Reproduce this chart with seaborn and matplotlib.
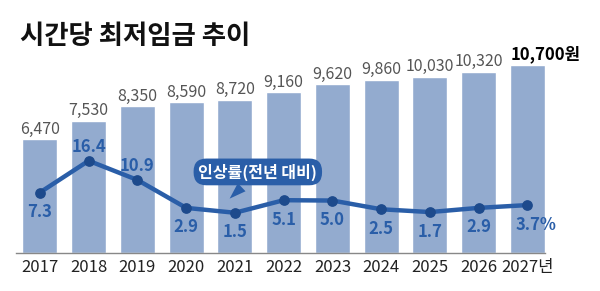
import numpy as np
import seaborn as sns
from matplotlib import pyplot as plt

years = ['2017', '2018', '2019', '2020', '2021', '2022', '2023', '2024', '2025', '2026', '2027']
wages = [6470, 7530, 8350, 8590, 8720, 9160, 9620, 9860, 10030, 10320, 10700]
rates = [7.3, 16.4, 10.9, 2.9, 1.5, 5.1, 5.0, 2.5, 1.7, 2.9, 3.7]
rate_above = [False, True, True, False, False, False, False, False, False, False, False]
tick_labels = years[:-1] + ['2027년']

BAR = '#93abcf'
LINE = '#2a5ea8'
DOT = '#1d4a8c'

sns.set_style('white')
plt.rcParams['font.family'] = ['Noto Sans CJK KR', 'DejaVu Sans']

fig = plt.figure(figsize=(6, 2.91), dpi=100)
W, H = 600, 291
ax = fig.add_axes([16 / W, 1 - 253 / H, (545 - 16) / W, 253 / H])

sns.barplot(x=years, y=wages, color=BAR, width=0.72, saturation=1, ax=ax)
ax.set_xlim(-0.49, 10.36)
ax.set_ylim(0, 14400)

labels = [f'{v:,}' for v in wages]
labels[-1] = ''
ax.bar_label(ax.containers[0], labels=labels, padding=1,
             fontsize=11.5, color='#555555')
# last value, bold and shifted right as in the source graphic
ax.annotate(f'{wages[-1]:,}원', (10, wages[-1]), xytext=(-12, 1.5),
            textcoords='offset points', ha='left', va='bottom',
            fontsize=12, fontweight='bold', color='black')

ax.set_xticks(range(len(years)))
ax.set_xticklabels(tick_labels, fontsize=12, color='#222222')
ax.tick_params(axis='x', length=0, pad=4)
ax.set_yticks([])
ax.set_xlabel('')
ax.set_ylabel('')
for s in ['top', 'left', 'right']:
    ax.spines[s].set_visible(False)
ax.spines['bottom'].set_color('#888888')
ax.spines['bottom'].set_linewidth(1)

# increase-rate line on a twin axis
ax2 = ax.twinx()
x = np.arange(len(rates))
sns.lineplot(x=x, y=rates, color=LINE, linewidth=3.2, ax=ax2)
ax2.scatter(x, rates, s=45, color=DOT, zorder=5)
ax2.set_ylim(-10.03, 62.46)
ax2.set_yticks([])
ax2.set_ylabel('')
for s in ax2.spines.values():
    s.set_visible(False)

for i, r in enumerate(rates):
    txt = f'{r:.1f}'
    dx = 0
    if i == len(rates) - 1:
        txt += '%'
        dx = 6
    dy = 10 if rate_above[i] else -14
    ax2.annotate(txt, (i, r), xytext=(dx, dy), textcoords='offset points',
                 ha='center', va='center', fontsize=12, fontweight='bold',
                 color=LINE)

ax2.annotate('인상률(전년 대비)', xy=(3.85, 5.0), xytext=(4.47, 13.2),
             ha='center', va='center', fontsize=11.5, fontweight='bold',
             color='white',
             bbox=dict(boxstyle='round,pad=0.3,rounding_size=0.8',
                       fc=LINE, ec='none'),
             arrowprops=dict(arrowstyle='wedge,tail_width=0.7,shrink_factor=0.5',
                             fc=LINE, ec='none'))

fig.text(20 / W, 1 - 36 / H, '시간당 최저임금 추이', fontsize=19,
         fontweight='bold', va='center', ha='left', color='#111111')

fig.savefig('out.png', dpi=100)
